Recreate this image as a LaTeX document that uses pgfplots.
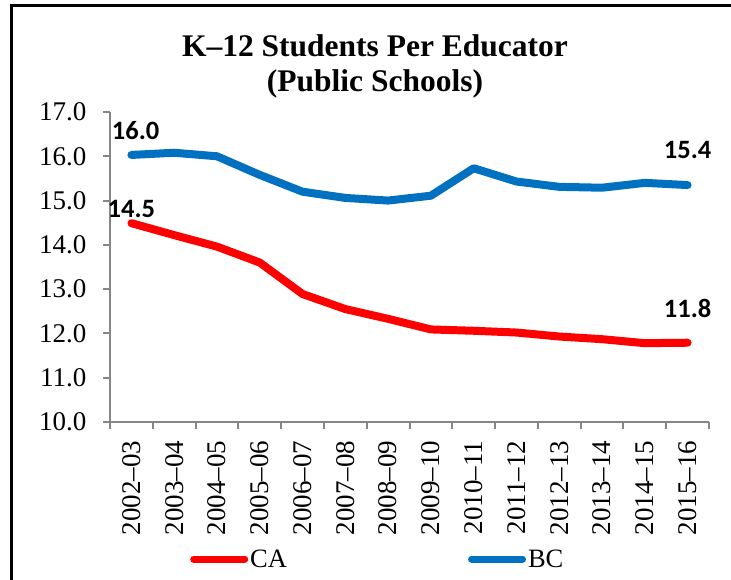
\documentclass[border=0pt]{standalone}
\usepackage{pgfplots}
\pgfplotsset{compat=1.18}
\usepackage{fontspec}
\setmainfont{Liberation Serif}
\newfontfamily\calibri{Carlito}

\definecolor{axgray}{RGB}{134,134,134}
\definecolor{bcblue}{RGB}{0,112,192}
\definecolor{cared}{RGB}{255,0,0}

\begin{document}
\begin{tikzpicture}
\begin{axis}[
  scale only axis, width=599pt, height=310pt,
  xmin=-0.5, xmax=13.5, ymin=10, ymax=17,
  axis x line*=bottom, axis y line*=left,
  axis line style={draw=axgray, line width=2pt, -},
  xtick={-0.5,0.5,...,13.5},
  x tick label as interval,
  xticklabels={2002--03,2003--04,2004--05,2005--06,2006--07,2007--08,2008--09,2009--10,2010--11,2011--12,2012--13,2013--14,2014--15,2015--16},
  ytick={10,11,...,17},
  tick style={draw=axgray, line width=2pt},
  major tick length=7pt, tick align=outside,
  xticklabel shift=8pt, yticklabel shift=13pt,
  x tick label style={rotate=90, anchor=east, font=\rmfamily\fontsize{27}{30}\selectfont},
  y tick label style={font=\rmfamily\fontsize{27}{30}\selectfont,
    /pgf/number format/.cd, fixed, fixed zerofill, precision=1, assume math mode=true},
  legend style={draw=none, fill=none, at={(0.1336,-0.442)}, anchor=west,
    inner sep=0pt, font=\rmfamily\fontsize{26.5}{30}\selectfont,
    /tikz/every even column/.append style={column sep=179pt}},
  legend columns=2,
  legend image code/.code={\draw[#1, line width=7pt, line cap=round] (3.5pt,0pt) -- (54.5pt,0pt);},
  clip=false,
]
\addplot[cared, line width=8pt, line join=round, line cap=round] coordinates {
  (0,14.49) (1,14.22) (2,13.96) (3,13.60) (4,12.89) (5,12.55) (6,12.33)
  (7,12.09) (8,12.06) (9,12.02) (10,11.93) (11,11.87) (12,11.78) (13,11.79)};
\addplot[bcblue, line width=8pt, line join=round, line cap=round] coordinates {
  (0,16.03) (1,16.08) (2,16.00) (3,15.58) (4,15.20) (5,15.06) (6,15.00)
  (7,15.11) (8,15.73) (9,15.43) (10,15.31) (11,15.29) (12,15.40) (13,15.35)};
\legend{CA, BC}

% data labels
\node[anchor=base, font=\calibri\bfseries\fontsize{26.5}{30}\selectfont] at (axis cs:0.1,16.37) {16.0};
\node[anchor=base, font=\calibri\bfseries\fontsize{26.5}{30}\selectfont] at (axis cs:0,14.61) {14.5};
\node[anchor=base, font=\calibri\bfseries\fontsize{26.5}{30}\selectfont] at (axis cs:13,15.94) {15.4};
\node[anchor=base, font=\calibri\bfseries\fontsize{26.5}{30}\selectfont] at (axis cs:13,12.37) {11.8};

\coordinate (o) at (rel axis cs:0,0);
\end{axis}

% title
\node[anchor=base, font=\rmfamily\bfseries\fontsize{31.5}{37}\selectfont] at ([shift={(265pt,365pt)}]o) {K--12 Students Per Educator};
\node[anchor=base, font=\rmfamily\bfseries\fontsize{31.5}{37}\selectfont] at ([shift={(265pt,330pt)}]o) {(Public Schools)};

% outer frame (right and bottom edges fall outside the page)
\draw[line width=3pt] ([shift={(-98pt,-300pt)}]o) rectangle ([shift={(700pt,416pt)}]o);

\pgfresetboundingbox
\path[use as bounding box] ([shift={(-110pt,-158pt)}]o) rectangle ([shift={(621pt,422pt)}]o);
\end{tikzpicture}
\end{document}
